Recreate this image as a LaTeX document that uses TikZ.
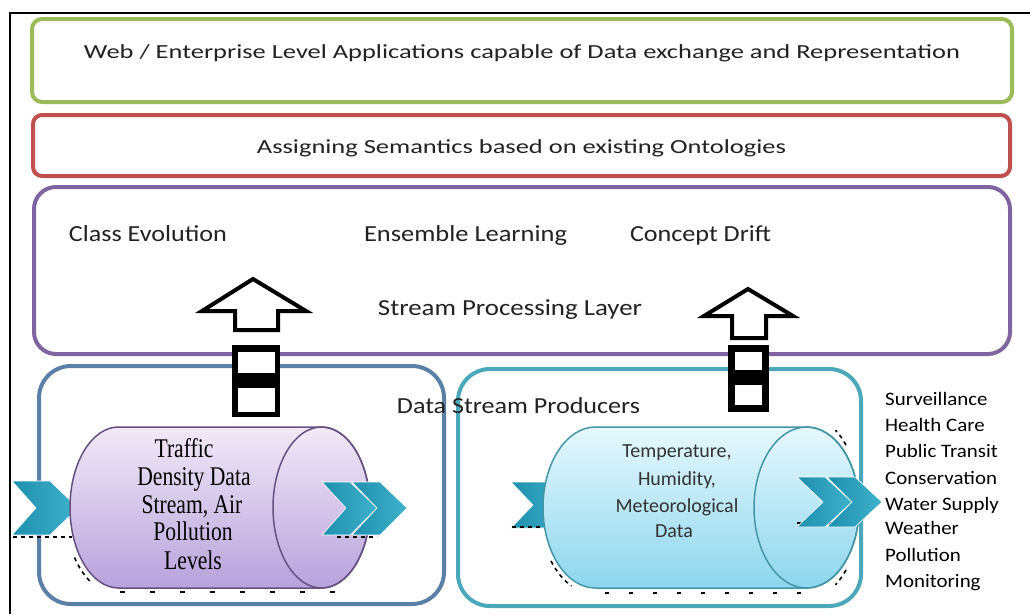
\documentclass[tikz,border=0pt]{standalone}
\usepackage{fontspec}
\usepackage{graphicx}
\setmainfont{Carlito}
\newfontfamily\condserif[FakeStretch=0.8]{Liberation Serif}
\newfontfamily\widecarl[FakeStretch=1.1]{Carlito}
\definecolor{cgreen}{HTML}{9BBB59}
\definecolor{cred}{HTML}{C0504D}
\definecolor{cpurple}{HTML}{8064A2}
\definecolor{cblue}{HTML}{5B80A8}
\definecolor{cteal}{HTML}{4BA7BA}
\definecolor{chev1}{HTML}{1E8FAE}
\definecolor{chev2}{HTML}{3FB2CC}
\definecolor{cyltopL}{HTML}{F2E9F7}
\definecolor{cylbotL}{HTML}{B8A2DC}
\definecolor{cyltopR}{HTML}{E6F8FD}
\definecolor{cylbotR}{HTML}{8DD6EE}
\definecolor{txt}{HTML}{222222}
\tikzset{
  layerbox/.style={draw, line width=4pt, fill=white, inner sep=0pt},
  maintext/.style={anchor=base, inner sep=0pt, text=txt},
  listtext/.style={anchor=base west, inner sep=0pt, text=black, font=\widecarl\fontsize{19}{22}\selectfont},
  serifline/.style={anchor=base, inner sep=0pt, text=black, font=\condserif\fontsize{27}{30}\selectfont},
  sansline/.style={anchor=base, inner sep=0pt, text=black!80, font=\fontsize{20}{24}\selectfont},
  chevron/.style={left color=chev1, right color=chev2, draw=white, line width=0.6pt},
  blockarrow/.style={draw=black, line width=4pt, fill=white, line join=miter},
  dotline/.style={draw=black, line width=2.2pt, dash pattern=on 4pt off 4pt},
}
\begin{document}
\begin{tikzpicture}[x=1pt,y=-1pt]
\useasboundingbox (0,0) rectangle (1030,614);
\fill[white] (0,0) rectangle (1030,614);
% frame (top and left)
\draw[line width=2.5pt] (10,614) -- (10,13) -- (1030,13);

% layer boxes
\node[layerbox, draw=cgreen, rounded corners=10pt, minimum width=980pt, minimum height=83pt] (web) at (522,60.5) {};
\node[layerbox, draw=cred, rounded corners=9pt, minimum width=977pt, minimum height=61pt] (sem) at (521.5,145.5) {};
\node[layerbox, draw=cpurple, rounded corners=22pt, minimum width=976pt, minimum height=167pt] (spl) at (522,270.5) {};
\node[layerbox, draw=cblue, rounded corners=32pt, minimum width=405pt, minimum height=238pt] (prodL) at (241.5,485) {};
\node[layerbox, draw=cteal, rounded corners=32pt, minimum width=403pt, minimum height=237pt] (prodR) at (659.5,487.5) {};

% chevrons behind cylinders
\path[chevron] (12,481) -- (50,481) -- (78,508) -- (50,535) -- (12,535) -- (36,508) -- cycle;
\path[chevron] (511,482) -- (545,482) -- (572,505) -- (545,528) -- (511,528) -- (533,505) -- cycle;

% dotted shadows
\draw[dotline] (13,537) -- (72,537);
\draw[dotline] (512,527) -- (545,527);
\draw[draw=black, line width=2.5pt, dash pattern=on 5pt off 25pt] (120,592) -- (335,592);
\draw[draw=black, line width=2.5pt, dash pattern=on 4pt off 20pt] (605,593) -- (805,593);
\draw[dotline, line width=1.6pt] (846,445) arc[start angle=40, end angle=55, x radius=55pt, y radius=84pt];
\draw[dotline, line width=1.6pt] (846,570) arc[start angle=-40, end angle=-55, x radius=55pt, y radius=84pt];

% left cylinder
\path[top color=cyltopL, bottom color=cylbotL, draw=cpurple!80!black, line width=1.5pt]
  (118.5,427) arc[start angle=90, end angle=270, x radius=48.5pt, y radius=80.5pt]
  -- (321.5,588) arc[start angle=-90, end angle=90, x radius=48.5pt, y radius=80.5pt] -- cycle;
\draw[cpurple!80!black, line width=1.5pt] (321.5,507.5) ellipse[x radius=48.5pt, y radius=80.5pt];

% right cylinder
\path[top color=cyltopR, bottom color=cylbotR, draw=cteal!90!black, line width=1.5pt]
  (595.5,427) arc[start angle=90, end angle=270, x radius=52.5pt, y radius=80.5pt]
  -- (806.5,588) arc[start angle=-90, end angle=90, x radius=52.5pt, y radius=80.5pt] -- cycle;
\draw[cteal!90!black, line width=1.5pt] (806.5,507.5) ellipse[x radius=52.5pt, y radius=80.5pt];

% dotted shadow arcs on the cylinders' lower left
\draw[dotline, line width=1.6pt] (74.5,557.5) arc[start angle=215, end angle=240, x radius=53pt, y radius=86pt];
\draw[dotline, line width=1.6pt] (551,561) arc[start angle=218, end angle=245, x radius=56pt, y radius=86pt];

% double chevrons
\draw[dotline] (337,537) -- (377,537);
\draw[dotline] (797,523) -- (857,523);
\path[chevron] (322,482) -- (350,482) -- (377,508) -- (350,535) -- (322,535) -- (346,508) -- cycle;
\path[chevron] (352,482) -- (380,482) -- (407,508) -- (380,535) -- (352,535) -- (377,508) -- cycle;
\path[chevron] (797,477) -- (825,477) -- (852,502) -- (825,527) -- (797,527) -- (823,502) -- cycle;
\path[chevron] (827,477) -- (855,477) -- (882,502) -- (855,527) -- (827,527) -- (852,502) -- cycle;

% block arrows
\path[blockarrow] (253,279) -- (306,311) -- (278,311) -- (278,330) -- (235,330) -- (235,311) -- (202,311) -- cycle;
\fill[black] (232,345) rectangle (280,417);
\fill[white] (238,352) rectangle (275,373);
\fill[white] (238,388) rectangle (275,412);
\path[blockarrow] (748,289) -- (793,316) -- (766,316) -- (766,338) -- (732,338) -- (732,316) -- (704,316) -- cycle;
\fill[black] (728,345) rectangle (769,412);
\fill[white] (735,352) rectangle (762,370);
\fill[white] (735,385) rectangle (762,405);

% layer texts
\node[maintext] (tweb) at (522,58) {\resizebox{876pt}{\height}{\fontsize{20}{24}\selectfont Web / Enterprise Level Applications capable of Data exchange and Representation}};
\node[maintext] (tsem) at (521.5,153) {\resizebox{529pt}{\height}{\fontsize{20}{24}\selectfont Assigning Semantics based on existing Ontologies}};
\node[maintext] (tce) at (148,241) {\resizebox{158pt}{\height}{\fontsize{23}{27}\selectfont Class Evolution}};
\node[maintext] (tel) at (465.5,241) {\resizebox{203pt}{\height}{\fontsize{23}{27}\selectfont Ensemble Learning}};
\node[maintext] (tcd) at (700.5,241) {\resizebox{141pt}{\height}{\fontsize{23}{27}\selectfont Concept Drift}};
\node[maintext] (tspl) at (510,315) {\resizebox{264pt}{\height}{\fontsize{23}{27}\selectfont Stream Processing Layer}};
\node[maintext] (tdsp) at (518.5,413) {\resizebox{243pt}{\height}{\fontsize{23}{27}\selectfont Data Stream Producers}};

% left cylinder text
\node[serifline] (l1) at (184,457) {Traffic};
\node[serifline] (l2) at (194,485) {Density Data};
\node[serifline] (l3) at (192,513) {Stream, Air};
\node[serifline] (l4) at (193,540) {Pollution};
\node[serifline] (l5) at (193,569) {Levels};

% right cylinder text
\node[sansline] (r1) at (677,457) {Temperature,};
\node[sansline] (r2) at (677,485) {Humidity,};
\node[sansline] (r3) at (677,512) {Meteorological};
\node[sansline] (r4) at (674,537) {Data};

% application list
\node[listtext] (a1) at (885,405) {Surveillance};
\node[listtext] (a2) at (885,431) {Health Care};
\node[listtext] (a3) at (885,457) {Public Transit};
\node[listtext] (a4) at (885,484) {Conservation};
\node[listtext] (a5) at (885,510) {Water Supply};
\node[listtext] (a6) at (885,534) {Weather};
\node[listtext] (a7) at (885,561) {Pollution};
\node[listtext] (a8) at (885,587) {Monitoring};
\end{tikzpicture}
\end{document}
